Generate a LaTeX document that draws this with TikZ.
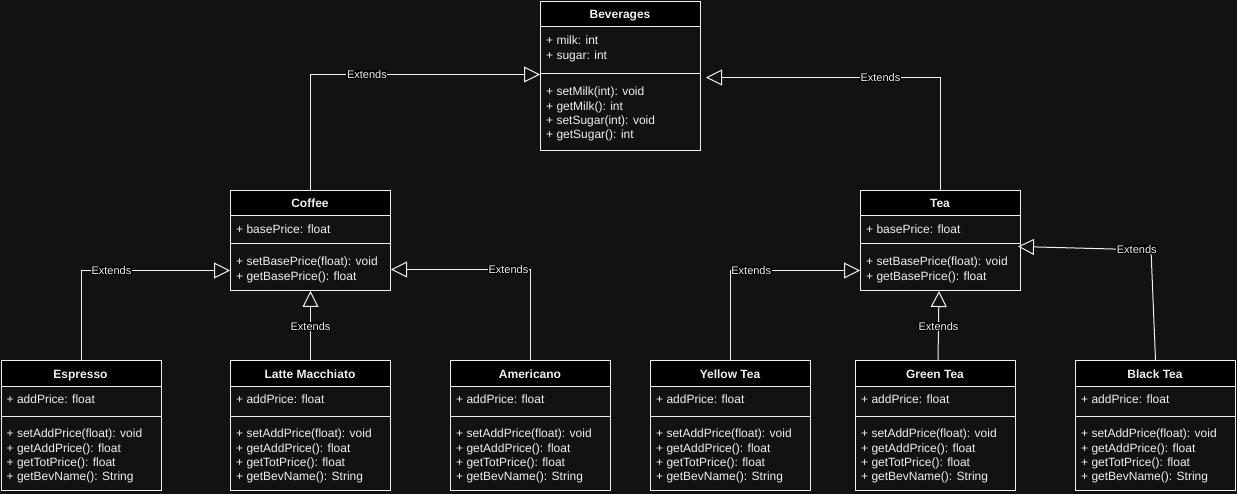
\documentclass[tikz,border=0pt]{standalone}
\usepackage{fontspec}
\setmainfont{Liberation Sans}
\usetikzlibrary{arrows.meta,calc}
\definecolor{bgc}{HTML}{121212}
\definecolor{fg}{HTML}{F0F0F0}
% #1 name, #2 left x, #3 top y, #4 height, #5 separator offset, #6 title, #7 attributes, #8 methods
\newcommand\classbox[8]{%
  \fill[black] (#2,#3) rectangle ++(160,26);
  \node[clsframe, minimum height=#4pt, anchor=north west] (#1) at (#2,#3) {};
  \draw[clsline] (#2,#3+26) -- ++(160,0);
  \draw[clsline] (#2,#3+#5) -- ++(160,0);
  \node[clstitle] (#1-t) at (#2+80,#3+13.7) {#6};
  \foreach \t [count=\i] in {#7} {\node[member] (#1-a\i) at (#2+6,#3+39.5+\i*14.3-14.3) {\t};}
  \foreach \t [count=\i] in {#8} {\node[member] (#1-m\i) at (#2+6,#3+#5+17.5+\i*14.3-14.3) {\t};}
}
\begin{document}
\begin{tikzpicture}[x=1pt,y=-1pt,
  clsframe/.style={draw=fg, line width=1pt, minimum width=160pt, inner sep=0pt},
  clsline/.style={draw=fg, line width=1pt},
  clstitle/.style={text=fg, font=\fontsize{12}{14}\selectfont\bfseries, inner sep=0pt, text height=8.6pt, text depth=0pt},
  member/.style={text=fg, font=\fontsize{12}{14}\selectfont, inner sep=0pt, anchor=west, text height=8.6pt, text depth=0pt},
  ext/.style={draw=fg, line width=1pt, -{Triangle[length=16pt, width=16pt, fill=bgc]}},
  lbl/.style={fill=black, text=fg, font=\fontsize{11}{13}\selectfont, inner sep=0.6pt}]
\fill[bgc] (0,0) rectangle (1237,494);
\useasboundingbox (0,0) rectangle (1237,494);

\classbox{bev}{540}{1}{149}{73}{Beverages}{+ milk: int, + sugar: int}{+ setMilk(int): void, + getMilk(): int, + setSugar(int): void, + getSugar(): int}
\classbox{cof}{230}{190}{100}{54}{Coffee}{+ basePrice: float}{+ setBasePrice(float): void, + getBasePrice(): float}
\classbox{tea}{860}{190}{100}{54}{Tea}{+ basePrice: float}{+ setBasePrice(float): void, + getBasePrice(): float}
\classbox{esp}{0.5}{360}{130}{56}{Espresso}{+ addPrice: float}{+ setAddPrice(float): void, + getAddPrice(): float, + getTotPrice(): float, + getBevName(): String}
\classbox{lat}{230}{360}{130}{56}{Latte Macchiato}{+ addPrice: float}{+ setAddPrice(float): void, + getAddPrice(): float, + getTotPrice(): float, + getBevName(): String}
\classbox{ame}{450}{360}{130}{56}{Americano}{+ addPrice: float}{+ setAddPrice(float): void, + getAddPrice(): float, + getTotPrice(): float, + getBevName(): String}
\classbox{yel}{650}{360}{130}{56}{Yellow Tea}{+ addPrice: float}{+ setAddPrice(float): void, + getAddPrice(): float, + getTotPrice(): float, + getBevName(): String}
\classbox{grn}{855}{360}{130}{56}{Green Tea}{+ addPrice: float}{+ setAddPrice(float): void, + getAddPrice(): float, + getTotPrice(): float, + getBevName(): String}
\classbox{blk}{1075}{360}{130}{56}{Black Tea}{+ addPrice: float}{+ setAddPrice(float): void, + getAddPrice(): float, + getTotPrice(): float, + getBevName(): String}

% connectors
\draw[ext] (cof.north) |- node[lbl, pos=0.623] {Extends} ([yshift=1.5pt]bev.west);
\draw[ext] (tea.north) |- node[lbl, pos=0.628] {Extends} ([xshift=5pt,yshift=-1.5pt]bev.east);
\draw[ext] (esp.north) |- node[lbl, pos=0.602] {Extends} ([yshift=-30pt]cof.west);
\draw[ext] (lat.north) -- node[lbl, pos=0.486] {Extends} (cof.south);
\draw[ext] (ame.north) |- node[lbl, pos=0.579] {Extends} ([yshift=-29pt]cof.east);
\draw[ext] (yel.north) |- node[lbl, pos=0.58] {Extends} ([yshift=-30pt]tea.west);
\draw[ext] ([xshift=2.5pt]grn.north) -- node[lbl, pos=0.486] {Extends} ([xshift=-1.5pt]tea.south);
\coordinate (bkbend) at (1151,250);
\draw[ext] (blk.north) -- (bkbend) -- node[lbl, pos=0.107] {Extends} ([xshift=-3pt,yshift=-6pt]tea.east);
\end{tikzpicture}
\end{document}
